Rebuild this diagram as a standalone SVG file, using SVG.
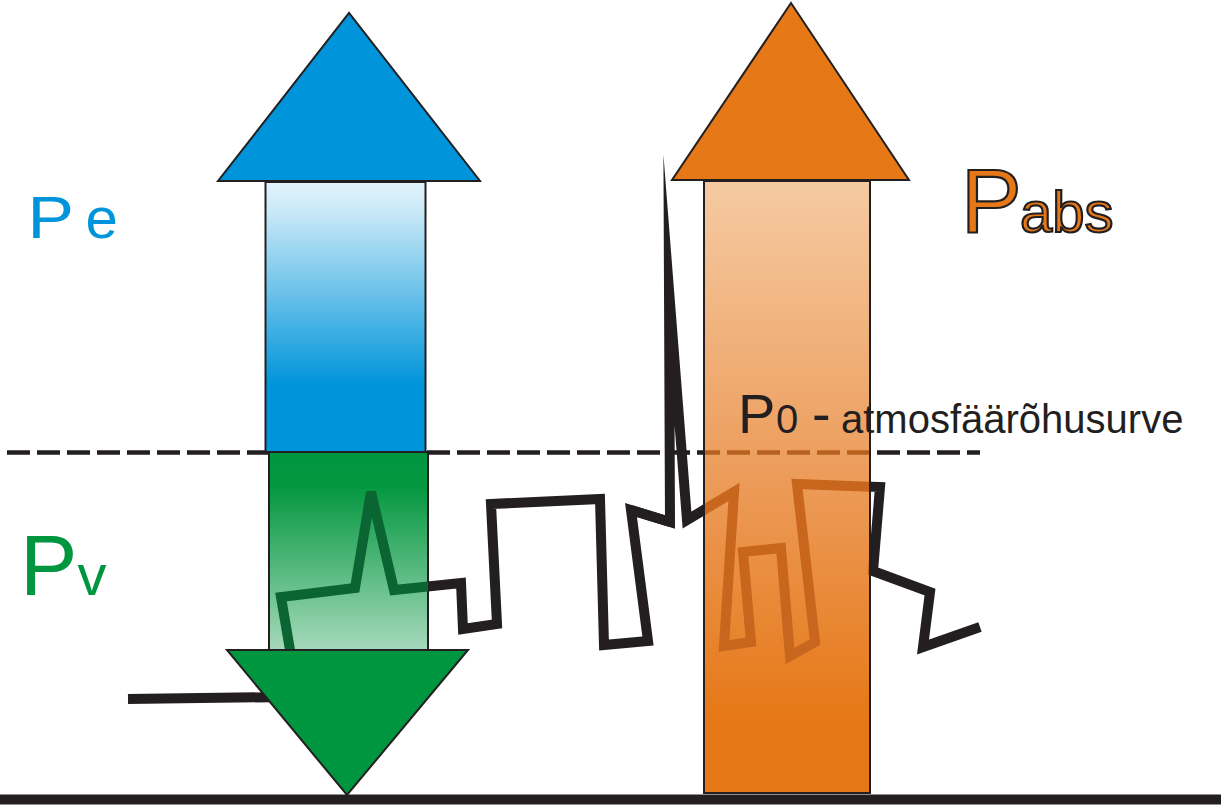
<svg xmlns="http://www.w3.org/2000/svg" xmlns:xlink="http://www.w3.org/1999/xlink" width="1223" height="806" viewBox="0 0 1223 806">
<style>
.outline{stroke:#231f20;stroke-width:2;stroke-linejoin:miter}
.lbl{font-family:"Liberation Sans",Arial,sans-serif}
.blue{fill:#0095da}
.green{fill:#009640}
.orange{fill:#e67817;stroke:#231f20;stroke-width:2.2}
.black{fill:#231f20}
</style>
<defs>
<linearGradient id="gBlue" x1="0" y1="0" x2="0" y2="1">
<stop offset="0" stop-color="#e2f3fc"/>
<stop offset="0.1" stop-color="#cceaf8"/>
<stop offset="0.75" stop-color="#0095da"/>
<stop offset="1" stop-color="#0095da"/>
</linearGradient>
<linearGradient id="gGreen" x1="0" y1="0" x2="0" y2="1">
<stop offset="0" stop-color="#009640"/>
<stop offset="0.17" stop-color="#03973f"/>
<stop offset="1" stop-color="#a6d9bb"/>
</linearGradient>
<linearGradient id="gOrange" x1="0" y1="0" x2="0" y2="1">
<stop offset="0" stop-color="#f5caa2"/>
<stop offset="0.5" stop-color="#ec9a57"/>
<stop offset="0.88" stop-color="#e67817"/>
<stop offset="1" stop-color="#e67817"/>
</linearGradient>
<clipPath id="cOrange"><rect x="704" y="181" width="166" height="612"/></clipPath>
<clipPath id="cGreen"><rect x="269" y="452" width="159" height="198"/></clipPath>
<g id="zig" fill="none" stroke-width="10">
<path d="M128,699 L285,697 L290,650 L281,597 L355,588 L371,492 L394,590 L461,583 L463,629 L497,624 L491,504 L600,499 L604,645 L648,641 L631,510 L670,522"/>
<path stroke-miterlimit="30" d="M631,510 L670,522 L669,290 L687,520 L734,492 L724,646 L751,642 L743,552 L781,548 L790,656 L815,642 L797,484 L880,487 L873,571 L930,592 L923,647 L980,627"/>
</g>
<line id="dash" x1="7" y1="452.5" x2="980" y2="452.5" stroke-width="4.5" stroke-dasharray="23 7"/>
</defs>

<g id="lines">
<line x1="0" y1="799.5" x2="1221" y2="799.5" stroke="#231f20" stroke-width="10"/>
<use xlink:href="#dash" href="#dash" stroke="#231f20"/>
<use xlink:href="#zig" href="#zig" stroke="#231f20"/>
</g>

<g id="blue-arrow">
<rect x="265.5" y="182" width="160" height="270" fill="url(#gBlue)" class="outline"/>
<polygon points="218,181 480,181 349,13" class="outline" fill="#0095da"/>
</g>

<g id="green-arrow">
<rect x="269" y="452" width="159" height="198" fill="url(#gGreen)" class="outline"/>
<use xlink:href="#zig" href="#zig" stroke="#0a6532" clip-path="url(#cGreen)"/>
<polygon points="227,650 468,650 347,795" class="outline" fill="#009640"/>
</g>

<g id="orange-arrow">
<rect x="704" y="181" width="166" height="612" fill="url(#gOrange)" class="outline"/>
<use xlink:href="#dash" href="#dash" stroke="#b8621f" clip-path="url(#cOrange)"/>
<use xlink:href="#zig" href="#zig" stroke="#c8661e" clip-path="url(#cOrange)"/>
<rect x="704" y="181" width="166" height="612" fill="none" class="outline"/>
<polygon points="672,180 909,180 791,3" class="outline" fill="#e67817"/>
</g>

<g id="label-pe" class="lbl blue">
<text transform="translate(27.5,238) scale(1.16,1)" font-size="60">P</text>
<text x="85.5" y="238" font-size="58">e</text>
</g>

<g id="label-pv" class="lbl green">
<text x="20" y="595" font-size="86">P</text>
<text x="77.5" y="595" font-size="58">v</text>
</g>

<g id="label-pabs" class="lbl orange">
<text x="961" y="232" font-size="91">P</text>
<text x="1020" y="232" font-size="58">abs</text>
</g>

<g id="label-p0" class="lbl black">
<text x="738" y="433" font-size="56">P</text>
<text x="776" y="433" font-size="40">0</text>
<text x="812" y="433" font-size="56">-</text>
<text x="841" y="433" font-size="40">atmosfäärõhusurve</text>
</g>
</svg>
